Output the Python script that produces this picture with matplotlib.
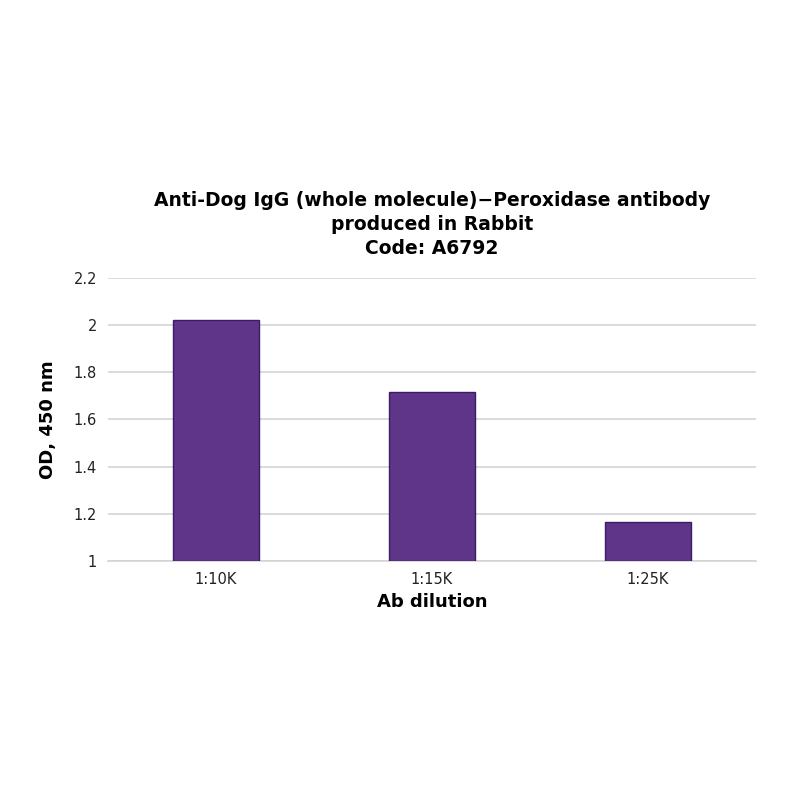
import matplotlib.pyplot as plt
import numpy as np

dilutions = ["1:10K", "1:15K", "1:25K"]
od450 = [2.02, 1.715, 1.165]
yticks = [1, 1.2, 1.4, 1.6, 1.8, 2, 2.2]
ytick_labels = ["1", "1.2", "1.4", "1.6", "1.8", "2", "2.2"]

fig = plt.figure(figsize=(8, 8), dpi=100)
ax = fig.add_axes([0.135, 0.29875, 0.81, 0.35375])

x = np.arange(len(dilutions))
ax.bar(x, np.array(od450) - 1, bottom=1, width=0.4, color="#5e3589",
       edgecolor="#3b1d66", linewidth=1, zorder=3)

ax.set_xlim(-0.5, 2.5)
ax.set_ylim(1, 2.2)
ax.set_xticks(x)
ax.set_xticklabels(dilutions, fontsize=10.5)
ax.set_yticks(yticks)
ax.set_yticklabels(ytick_labels, fontsize=10.5)
ax.tick_params(length=0, pad=8, colors="#222222")
ax.grid(axis="y", color="#d4d4d4", linewidth=1.2, zorder=0)
for s in ax.spines.values():
    s.set_visible(False)
ax.spines["bottom"].set_visible(True)
ax.spines["bottom"].set_color("#d4d4d4")
ax.spines["bottom"].set_linewidth(1.2)

ax.set_xlabel("Ab dilution", fontsize=13, fontweight="bold", labelpad=4)
ax.set_ylabel("OD, 450 nm", fontsize=13, fontweight="bold", labelpad=12)
ax.set_title("Anti-Dog IgG (whole molecule)\u2212Peroxidase antibody\nproduced in Rabbit\nCode: A6792",
             fontsize=13.5, fontweight="semibold", pad=17, linespacing=1.35)

plt.savefig("out.png", dpi=100)
